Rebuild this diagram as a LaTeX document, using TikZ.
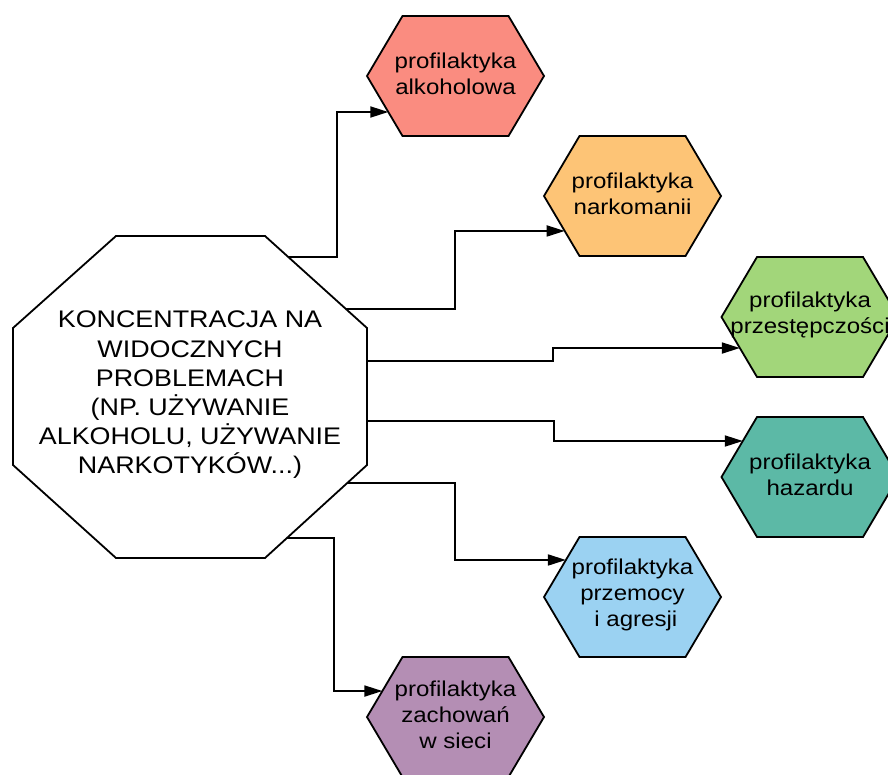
\documentclass[tikz,border=0pt]{standalone}
\usepackage{fontspec}
\setmainfont{Liberation Sans}[FakeStretch=1.12]
\usetikzlibrary{arrows.meta,calc}

\definecolor{hexred}{RGB}{250,140,128}
\definecolor{hexorange}{RGB}{253,196,118}
\definecolor{hexgreen}{RGB}{162,214,122}
\definecolor{hexteal}{RGB}{92,185,166}
\definecolor{hexblue}{RGB}{155,210,242}
\definecolor{hexpurple}{RGB}{180,142,180}

% hexagon with pointed left/right ends: name, centre, fill, text
\newcommand\hexa[4]{%
  \coordinate (#1-c) at (#2);
  \begin{scope}[shift={(#1-c)}]
    \coordinate (#1-w)  at (-88.5,0);
    \coordinate (#1-nw) at (-53,-60);
    \coordinate (#1-ne) at (53,-60);
    \coordinate (#1-e)  at (88.5,0);
    \coordinate (#1-se) at (53,60);
    \coordinate (#1-sw) at (-53,60);
  \end{scope}
  \filldraw[outline,fill=#3] (#1-w) -- (#1-nw) -- (#1-ne) -- (#1-e) -- (#1-se) -- (#1-sw) -- cycle;
  \node[hextext] (#1) at ($(#1-c)+(0,-2)$) {#4};
}

\begin{document}
\begin{tikzpicture}[x=1pt,y=-1pt,
  outline/.style={draw=black,line width=1.8pt,line join=miter},
  link/.style={draw=black,line width=1.8pt,-{Triangle[length=18pt,width=11pt]}},
  hextext/.style={align=center,font=\fontsize{21.5}{26}\selectfont,inner sep=0pt},
  maintext/.style={align=center,font=\fontsize{24}{29.2}\selectfont,inner sep=0pt}]

\useasboundingbox (0,0) rectangle (888,774);
\clip (0,0) rectangle (888,774);

% central octagon
\coordinate (o1) at (116,236);
\coordinate (o2) at (265,236);
\coordinate (o3) at (367,328);
\coordinate (o4) at (367,465);
\coordinate (o5) at (265,558);
\coordinate (o6) at (116,558);
\coordinate (o7) at (13,465);
\coordinate (o8) at (13,328);
\draw[outline,fill=white] (o1) -- (o2) -- (o3) -- (o4) -- (o5) -- (o6) -- (o7) -- (o8) -- cycle;
\node[maintext] (main) at (190,395) {KONCENTRACJA NA\\WIDOCZNYCH\\PROBLEMACH\\(NP. UŻYWANIE\\ALKOHOLU, UŻYWANIE\\NARKOTYKÓW...)};

% the six fields of prevention
\hexa{h1}{455.5,76}{hexred}{profilaktyka\\alkoholowa}
\hexa{h2}{632.5,196}{hexorange}{profilaktyka\\narkomanii}
\hexa{h3}{810,317}{hexgreen}{profilaktyka\\przestępczości}
\hexa{h4}{810,477}{hexteal}{profilaktyka\\hazardu}
\hexa{h5}{632.5,597}{hexblue}{profilaktyka\\przemocy\\\ i agresji}
\hexa{h6}{455.5,717}{hexpurple}{profilaktyka\\zachowań\\w sieci}

% start points on the octagon border
\coordinate (s1) at ($(o2)!0.228!(o3)$);
\coordinate (s2) at ($(o2)!0.79!(o3)$);
\coordinate (s3) at ($(o3)!0.24!(o4)$);
\coordinate (s4) at ($(o3)!0.68!(o4)$);
\coordinate (s5) at ($(o4)!0.194!(o5)$);
\coordinate (s6) at ($(o4)!0.785!(o5)$);

% end points on the hexagon borders
\coordinate (e1) at ($(h1-w)!0.6!(h1-sw)$);
\coordinate (e2) at ($(h2-w)!0.583!(h2-sw)$);
\coordinate (e3) at ($(h3-w)!0.517!(h3-sw)$);
\coordinate (e4) at ($(h4-w)!0.6!(h4-nw)$);
\coordinate (e5) at ($(h5-w)!0.617!(h5-nw)$);
\coordinate (e6) at ($(h6-w)!0.433!(h6-nw)$);

% x positions of the vertical runs
\coordinate (k1) at (337,0);
\coordinate (k2) at (455,0);
\coordinate (k3) at (553,0);
\coordinate (k4) at (554,0);
\coordinate (k5) at (455,0);
\coordinate (k6) at (334,0);

\draw[link] (s1) -- (s1 -| k1) |- (e1);
\draw[link] (s2) -- (s2 -| k2) |- (e2);
\draw[link] (s3) -- (s3 -| k3) |- (e3);
\draw[link] (s4) -- (s4 -| k4) |- (e4);
\draw[link] (s5) -- (s5 -| k5) |- (e5);
\draw[link] (s6) -- (s6 -| k6) |- (e6);

\end{tikzpicture}
\end{document}
